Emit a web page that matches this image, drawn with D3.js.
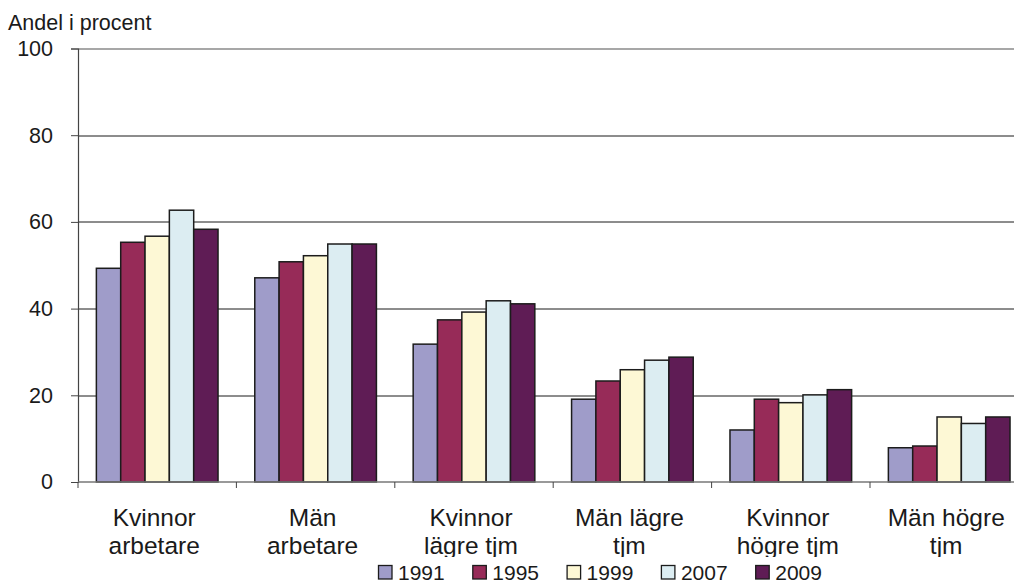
<!DOCTYPE html>
<html>
<head>
<meta charset="utf-8">
<script src="https://cdn.jsdelivr.net/npm/d3@7"></script>
<style>
  html, body { margin: 0; padding: 0; background: #fff; overflow: hidden; }
  svg { display: block; font-family: "Liberation Sans", Arial, sans-serif; }
</style>
</head>
<body>
<svg id="chart" width="1014" height="583"></svg>
<script>
// Categories (two-line labels) and yearly series
const categories = [
  ["Kvinnor", "arbetare"],
  ["Män", "arbetare"],
  ["Kvinnor", "lägre tjm"],
  ["Män lägre", "tjm"],
  ["Kvinnor", "högre tjm"],
  ["Män högre", "tjm"]
];
const years = ["1991", "1995", "1999", "2007", "2009"];
const values1991 = [49.3, 47.1, 31.8, 19.1, 12.0, 7.9];
const values1995 = [55.3, 50.8, 37.4, 23.3, 19.1, 8.3];
const values1999 = [56.7, 52.2, 39.2, 25.9, 18.3, 15.0];
const values2007 = [62.7, 54.9, 41.8, 28.1, 20.1, 13.5];
const values2009 = [58.3, 54.9, 41.1, 28.8, 21.3, 15.0];
const yTicks = [0, 20, 40, 60, 80, 100];
const yLabel = "Andel i procent";

const series = [values1991, values1995, values1999, values2007, values2009];
const colors = ["#9f9cc9", "#972b58", "#fdf8d5", "#dcedf2", "#5f1c55"];

const svg = d3.select("#chart");
const margin = { left: 78, top: 48.5, bottom: 101 };
const bandW = 158.4;
const plotW = bandW * categories.length;
const plotH = 583 - margin.top - margin.bottom;

const g = svg.append("g").attr("transform", `translate(${margin.left},${margin.top})`);

const x0 = d3.scaleBand().domain(d3.range(categories.length)).range([0, plotW]).paddingInner(0.232).paddingOuter(0.116);
const x1 = d3.scaleBand().domain(d3.range(years.length)).range([0, x0.bandwidth()]);
const y = d3.scaleLinear().domain([0, 100]).range([plotH, 0]);

// Horizontal gridlines
g.selectAll("line.grid").data(yTicks.filter(t => t > 0)).join("line")
  .attr("class", "grid")
  .attr("x1", 0).attr("x2", plotW)
  .attr("y1", d => Math.round(y(d)) + 0.5).attr("y2", d => Math.round(y(d)) + 0.5)
  .attr("stroke", d => d === 100 ? "#8a8a8a" : "#1a1a1a")
  .attr("stroke-width", d => d === 100 ? 1.6 : 1);

// Bars
const groups = g.selectAll("g.cat").data(categories.map((c, i) => i)).join("g")
  .attr("class", "cat")
  .attr("transform", i => `translate(${x0(i)},0)`);
groups.selectAll("rect").data(i => series.map((s, k) => ({ k, v: s[i] }))).join("rect")
  .attr("x", d => x1(d.k))
  .attr("width", x1.bandwidth())
  .attr("y", d => y(d.v))
  .attr("height", d => y(0) - y(d.v))
  .attr("fill", d => colors[d.k])
  .attr("stroke", "#1c1c1c")
  .attr("stroke-width", 1.5);

// Y axis
const yAxis = d3.axisLeft(y).tickValues(yTicks).tickSize(7).tickPadding(18);
const yG = g.append("g").call(yAxis);
yG.select(".domain").attr("stroke", "#444").attr("stroke-width", 1.2);
yG.selectAll(".tick line").attr("stroke", "#444");
yG.selectAll(".tick text").attr("font-size", 21.5).attr("fill", "#1a1a1a")
  .attr("font-family", "'Liberation Sans', Arial, sans-serif");

// X axis: ticks between categories
const xG = g.append("g").attr("transform", `translate(0,${plotH})`);
xG.append("line").attr("x1", 0).attr("x2", plotW).attr("y1", 0).attr("y2", 0)
  .attr("stroke", "#777").attr("stroke-width", 1.6);
xG.selectAll("line.tk").data(d3.range(categories.length + 1)).join("line")
  .attr("class", "tk")
  .attr("x1", i => i * bandW).attr("x2", i => i * bandW)
  .attr("y1", 0).attr("y2", 6)
  .attr("stroke", "#444");

// Category labels
const lab = xG.selectAll("text.cl").data(categories).join("text")
  .attr("class", "cl")
  .attr("text-anchor", "middle")
  .attr("font-size", 24.5)
  .attr("fill", "#1a1a1a")
  .attr("transform", (d, i) => `translate(${x0(i) + x0.bandwidth() / 2 - 3},0)`);
lab.selectAll("tspan").data(d => d).join("tspan")
  .attr("x", 0)
  .attr("y", (d, j) => 44 + j * 28)
  .text(d => d);

// Y axis title
svg.append("text").attr("x", 8).attr("y", 30)
  .attr("font-size", 21.5).attr("fill", "#1a1a1a")
  .text(yLabel);

// Legend (white backing covers label descenders)
svg.append("rect").attr("x", 0).attr("y", 557).attr("width", 1014).attr("height", 26).attr("fill", "#fff");
const legend = svg.append("g").attr("transform", "translate(378,565)");
const items = legend.selectAll("g").data(years).join("g")
  .attr("transform", (d, i) => `translate(${i * 94.3},0)`);
items.append("rect").attr("x", 0.5).attr("y", 0.5).attr("width", 13.5).attr("height", 13.5)
  .attr("fill", (d, i) => colors[i]).attr("stroke", "#1c1c1c").attr("stroke-width", 1.3);
items.append("text").attr("x", 20).attr("y", 14.5)
  .attr("font-size", 21).attr("fill", "#1a1a1a")
  .text(d => d);
</script>
</body>
</html>
